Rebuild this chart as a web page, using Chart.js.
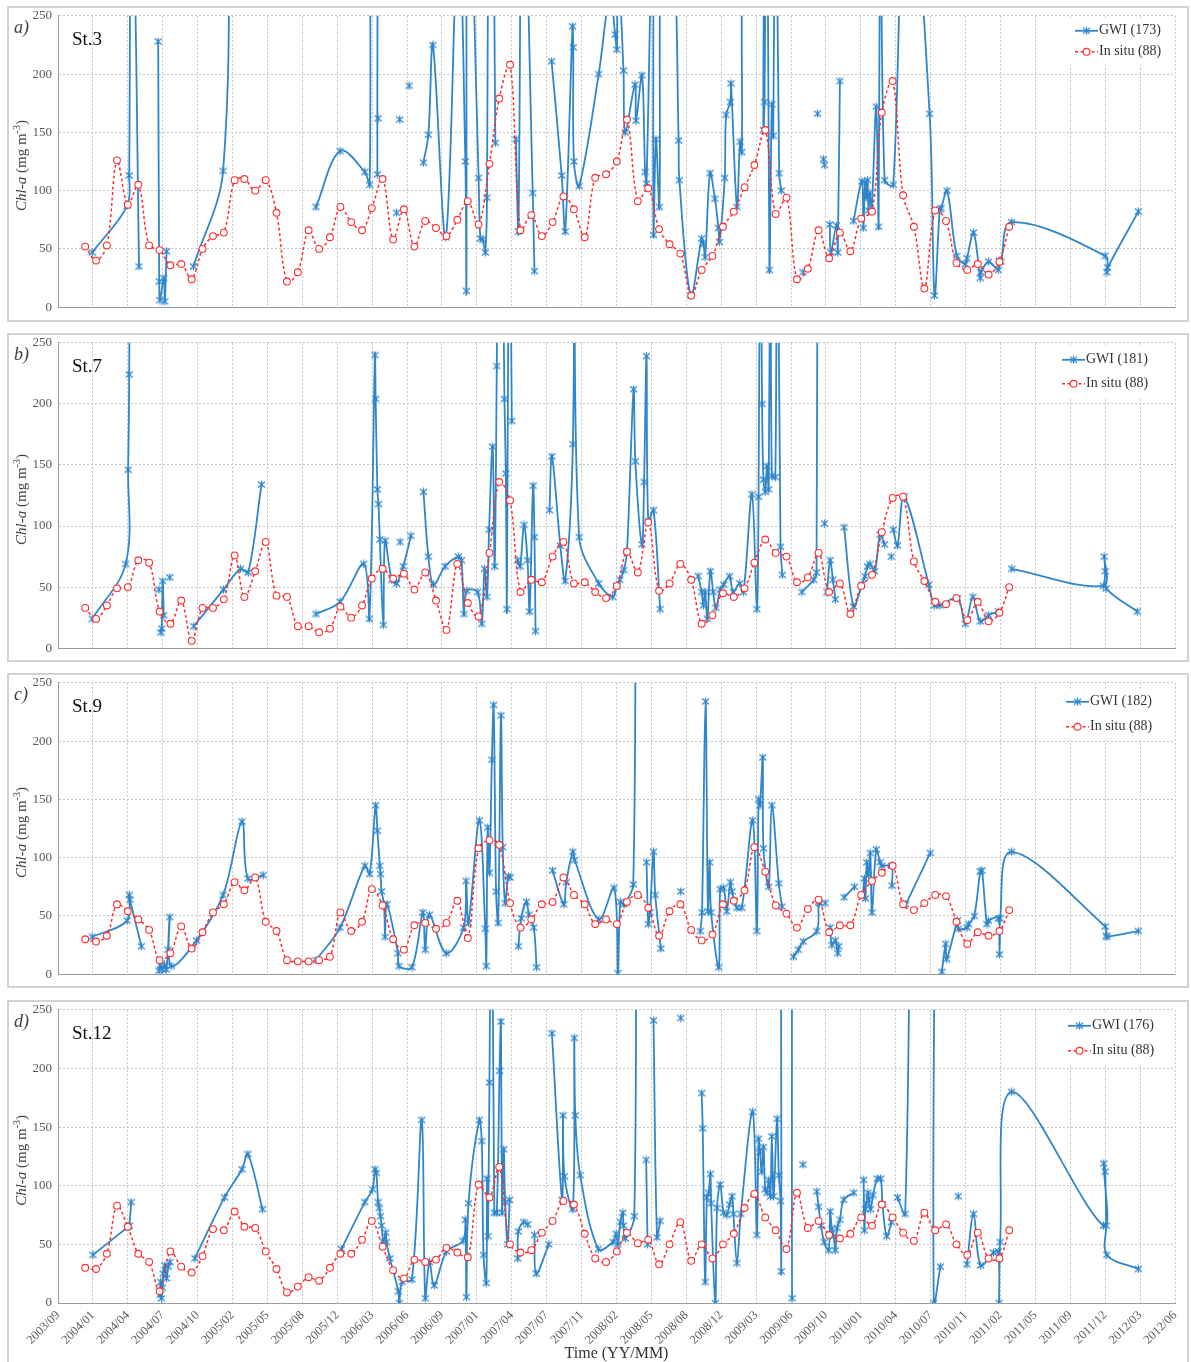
<!DOCTYPE html>
<html lang="en">

<head>
    <meta charset="UTF-8">
    <title>Chl-a: GWI vs in situ</title>
    <script src="https://cdn.jsdelivr.net/npm/chart.js"></script>
    <style>
        body { margin: 0; background: #fff; overflow: hidden; }
        .page { position: relative; width: 1191px; height: 1362px; }
        .box { position: absolute; left: 7px; width: 1182px; border: 2px solid #d2d2d2; box-sizing: border-box; }
        .wrap { position: absolute; left: 0; width: 1191px; }
    </style>
</head>

<body>
    <div class="page">
        <div class="box" style="top:6px;height:316px"></div>
        <div class="box" style="top:333px;height:329px"></div>
        <div class="box" style="top:673px;height:315px"></div>
        <div class="box" style="top:1000px;height:366px"></div>
        <div class="wrap" style="top:2px;height:319px"><canvas id="chartA"></canvas></div>
        <div class="wrap" style="top:329px;height:333px"><canvas id="chartB"></canvas></div>
        <div class="wrap" style="top:669px;height:319px"><canvas id="chartC"></canvas></div>
        <div class="wrap" style="top:996px;height:366px"><canvas id="chartD"></canvas></div>
    </div>

    <script>
        const xTickLabels = ['2003/09', '2004/01', '2004/04', '2004/07', '2004/10', '2005/02', '2005/05', '2005/08',
            '2005/12', '2006/03', '2006/06', '2006/09', '2007/01', '2007/04', '2007/07', '2007/11', '2008/02',
            '2008/05', '2008/08', '2008/12', '2009/03', '2009/06', '2009/10', '2010/01', '2010/04', '2010/07',
            '2010/11', '2011/02', '2011/05', '2011/09', '2011/12', '2012/03', '2012/06'];

        const stations = ['St.3', 'St.7', 'St.9', 'St.12'];
        const panelTags = ['a)', 'b)', 'c)', 'd)'];
        const gwiCounts = [173, 181, 182, 176];
        const insituCount = 88;

        // monthly in situ sampling
        const insituMonths = ['2003-12',
            '2004-01', '2004-02', '2004-03', '2004-04', '2004-05', '2004-06', '2004-07', '2004-08', '2004-09', '2004-10', '2004-11', '2004-12',
            '2005-01', '2005-02', '2005-03', '2005-04', '2005-05', '2005-06', '2005-07', '2005-08', '2005-09', '2005-10', '2005-11', '2005-12',
            '2006-01', '2006-02', '2006-03', '2006-04', '2006-05', '2006-06', '2006-07', '2006-08', '2006-09', '2006-10', '2006-11', '2006-12',
            '2007-01', '2007-02', '2007-03', '2007-04', '2007-05', '2007-06', '2007-07', '2007-08', '2007-09', '2007-10', '2007-11', '2007-12',
            '2008-01', '2008-02', '2008-03', '2008-04', '2008-05', '2008-06', '2008-07', '2008-08', '2008-09', '2008-10', '2008-11', '2008-12',
            '2009-01', '2009-02', '2009-03', '2009-04', '2009-05', '2009-06', '2009-07', '2009-08', '2009-09', '2009-10', '2009-11', '2009-12',
            '2010-01', '2010-02', '2010-03', '2010-04', '2010-05', '2010-06', '2010-07', '2010-08', '2010-09', '2010-10', '2010-11', '2010-12',
            '2011-01', '2011-02', '2011-03'];

        const insituA = [52, 40, 53, 126, 88, 105, 53, 49, 36, 37, 24, 50, 61, 64, 109, 110, 100, 109, 81, 22, 30, 66, 50, 60, 86, 73, 66, 85, 110, 58, 84,
            52, 74, 68, 61, 75, 91, 71, 123, 179, 208, 66, 79, 61, 73, 95, 84, 60, 111, 114, 125, 161, 91, 102, 67, 54, 46, 10, 32, 44, 69, 82, 103, 122, 152, 80, 94, 24,
            33, 66, 42, 64, 48, 76, 82, 167, 194, 96, 69, 16, 83, 74, 38, 32, 37, 28, 39, 69];
        const insituB = [33, 24, 35, 49, 50, 72, 70, 30, 20, 39, 6, 33, 33, 40, 76, 42, 63, 87, 43, 42, 18, 18, 13, 16, 34, 25, 35, 57, 65, 57, 61,
            48, 62, 39, 15, 69, 37, 26, 78, 136, 121, 46, 56, 54, 75, 87, 53, 54, 46, 41, 51, 79, 62, 103, 47, 53, 69, 56, 20, 27, 45, 42, 49, 70, 89, 78, 75, 54,
            58, 78, 46, 53, 28, 51, 60, 95, 123, 124, 71, 55, 38, 36, 41, 23, 38, 22, 29, 50];
        const insituC = [30, 28, 33, 60, 54, 47, 38, 12, 18, 41, 22, 36, 53, 60, 79, 72, 83, 45, 37, 12, 11, 11, 12, 15, 53, 37, 45, 73, 59, 30, 21,
            42, 44, 39, 44, 63, 31, 108, 115, 111, 61, 40, 47, 60, 62, 83, 68, 60, 43, 47, 43, 62, 68, 57, 33, 54, 60, 38, 29, 34, 60, 63, 72, 109, 88, 59, 52, 40,
            56, 64, 36, 42, 42, 68, 80, 87, 93, 60, 55, 61, 68, 67, 45, 26, 36, 33, 37, 55];
        const insituD = [30, 29, 42, 83, 65, 42, 35, 10, 44, 31, 26, 40, 63, 62, 78, 65, 64, 44, 29, 9, 14, 22, 19, 30, 42, 42, 54, 70, 48, 28, 21,
            37, 35, 37, 47, 43, 39, 101, 90, 116, 50, 43, 45, 60, 70, 87, 84, 59, 38, 35, 44, 60, 51, 54, 33, 50, 69, 36, 50, 38, 50, 59, 81, 93, 73, 62, 46, 94,
            64, 70, 58, 55, 59, 73, 66, 84, 73, 60, 53, 77, 62, 67, 50, 41, 60, 38, 38, 62];

        // GWI retrievals, [date, value]; null breaks the line
        const gwiA = [['2003-12-30', 47], ['2004-04-08', 87], ['2004-04-14', 113], ['2004-04-20', 480], ['2004-05-12', 35], ['2004-06-10', null],
            ['2004-07-06', 228], ['2004-07-09', 22], ['2004-07-11', 6], ['2004-07-22', 25], ['2004-07-25', 5], ['2004-07-30', 48], ['2004-09-01', null],
            ['2004-10-15', 35], ['2005-01-08', 117], ['2005-01-25', 420], ['2005-06-01', null],
            ['2005-10-01', 86], ['2005-12-09', 134], ['2006-02-18', 116], ['2006-03-04', 105], ['2006-03-07', 450], ['2006-03-23', 420], ['2006-03-26', 114], ['2006-03-27', null],
            ['2006-03-28', 162], ['2006-04-10', null], ['2006-05-20', 81], ['2006-05-24', null], ['2006-05-29', 161], ['2006-06-10', null], ['2006-06-25', 190], ['2006-07-10', null],
            ['2006-08-05', 124], ['2006-08-19', 148], ['2006-09-01', 225], ['2006-10-08', 60], ['2006-11-13', 330], ['2006-12-03', 125], ['2006-12-06', 14], ['2006-12-10', 420],
            ['2007-01-10', 111], ['2007-01-15', 59], ['2007-01-22', 58], ['2007-01-29', 47], ['2007-02-03', 94], ['2007-02-09', 400], ['2007-02-18', 400], ['2007-02-27', 141], ['2007-04-01', null],
            ['2007-04-27', 144], ['2007-05-04', 65], ['2007-05-16', 420], ['2007-06-14', 98], ['2007-06-19', 31], ['2007-07-15', null],
            ['2007-08-07', 211], ['2007-09-05', 113], ['2007-09-15', 65], ['2007-10-06', 241], ['2007-10-08', 223], ['2007-10-10', 125], ['2007-10-25', 104], ['2007-12-20', 200],
            ['2008-01-22', 270], ['2008-02-05', 234], ['2008-02-10', 221], ['2008-02-13', 300], ['2008-02-29', 203], ['2008-03-05', 150], ['2008-04-02', 191], ['2008-04-05', 160],
            ['2008-04-22', 199], ['2008-05-01', 116], ['2008-05-05', 106], ['2008-05-23', 350], ['2008-05-25', 62], ['2008-06-01', 144], ['2008-06-11', 86], ['2008-06-18', 350],
            ['2008-07-20', 320], ['2008-08-05', 143], ['2008-08-07', 109], ['2008-09-09', 10], ['2008-10-10', 59], ['2008-10-15', 54], ['2008-10-20', 43], ['2008-11-03', 115],
            ['2008-11-17', 93], ['2008-11-27', 68], ['2008-11-30', 56], ['2008-12-15', 111], ['2008-12-19', 165], ['2008-12-31', 176], ['2009-01-02', 192], ['2009-01-19', 86],
            ['2009-01-28', 142], ['2009-02-02', 133], ['2009-02-09', 330], ['2009-03-30', 400], ['2009-04-05', 152], ['2009-04-08', 176], ['2009-04-15', 420], ['2009-04-22', 32],
            ['2009-04-29', 174], ['2009-05-03', 147], ['2009-05-10', 420], ['2009-05-20', 115], ['2009-05-26', 100], ['2009-06-20', null],
            ['2009-07-27', 30], ['2009-08-10', null], ['2009-09-07', 166], ['2009-09-15', null], ['2009-09-24', 127], ['2009-09-25', null], ['2009-09-27', 122], ['2009-10-01', null],
            ['2009-10-12', 71], ['2009-10-15', 47], ['2009-10-31', 70], ['2009-11-04', 47], ['2009-11-10', 194], ['2009-12-01', null],
            ['2009-12-19', 74], ['2010-01-12', 108], ['2010-01-16', 68], ['2010-01-21', 107], ['2010-01-24', 94], ['2010-01-28', 109], ['2010-01-31', 83], ['2010-02-04', 98],
            ['2010-02-09', 83], ['2010-02-22', 172], ['2010-03-01', 69], ['2010-03-06', 400], ['2010-03-18', 109], ['2010-04-12', 105], ['2010-05-20', 420], ['2010-07-25', 166],
            ['2010-08-08', 10], ['2010-08-23', 84], ['2010-08-27', 85], ['2010-09-13', 100], ['2010-10-11', 44], ['2010-11-04', 37], ['2010-11-09', 42], ['2010-11-28', 64],
            ['2010-12-17', 25], ['2010-12-19', 30], ['2011-01-10', 39], ['2011-02-07', 32], ['2011-02-10', 40], ['2011-02-14', 39], ['2011-03-17', 73], ['2011-12-10', 44],
            ['2011-12-15', 30], ['2011-12-17', 34], ['2012-03-14', 82]];

        const gwiB = [['2003-12-30', 24], ['2004-04-04', 69], ['2004-04-11', 146], ['2004-04-14', 224], ['2004-04-18', 480], ['2004-06-01', null],
            ['2004-07-08', 48], ['2004-07-11', null], ['2004-07-14', 13], ['2004-07-16', 16], ['2004-07-19', 55], ['2004-07-22', 27], ['2004-07-30', null],
            ['2004-08-08', 58], ['2004-09-01', null],
            ['2004-10-16', 18], ['2005-01-09', 48], ['2005-02-27', 65], ['2005-03-21', 62], ['2005-04-28', 134], ['2005-07-01', null],
            ['2005-10-01', 28], ['2005-12-09', 38], ['2006-02-15', 69], ['2006-03-03', 24], ['2006-03-19', 240], ['2006-03-21', 204], ['2006-03-26', 130], ['2006-03-29', 118],
            ['2006-04-02', 89], ['2006-04-12', 19], ['2006-04-17', 88], ['2006-05-06', 56], ['2006-05-20', 53], ['2006-06-08', 67], ['2006-06-30', 92], ['2006-07-15', null],
            ['2006-08-05', 128], ['2006-08-19', 75], ['2006-09-03', 52], ['2006-10-06', 67], ['2006-11-13', 75], ['2006-11-22', 72], ['2006-11-29', 28], ['2006-12-07', 47],
            ['2007-01-07', 46], ['2007-01-19', 20], ['2007-01-27', 65], ['2007-02-03', 42], ['2007-02-09', 97], ['2007-02-19', 165], ['2007-02-25', 67], ['2007-03-03', 231],
            ['2007-03-08', 400], ['2007-03-17', 400], ['2007-03-25', 204], ['2007-03-29', 143], ['2007-04-01', 32], ['2007-04-08', 420], ['2007-04-15', 186], ['2007-04-25', null],
            ['2007-05-02', 72], ['2007-05-09', 67], ['2007-05-20', 101], ['2007-05-30', 72], ['2007-06-05', 30], ['2007-06-15', 133], ['2007-06-19', 91], ['2007-06-22', 14], ['2007-07-15', null],
            ['2007-08-01', 113], ['2007-08-08', 157], ['2007-09-01', 84], ['2007-09-15', 55], ['2007-10-07', 167], ['2007-10-12', 400], ['2007-10-25', 91], ['2007-12-20', 53],
            ['2008-01-29', 42], ['2008-02-10', 51], ['2008-02-19', 56], ['2008-03-01', 64], ['2008-03-10', 79], ['2008-03-29', 212], ['2008-04-03', 153], ['2008-04-22', 85],
            ['2008-04-28', 136], ['2008-05-05', 239], ['2008-05-10', 104], ['2008-05-25', 113], ['2008-06-13', 32], ['2008-08-01', null],
            ['2008-09-30', 59], ['2008-10-10', 46], ['2008-10-15', 35], ['2008-10-20', 46], ['2008-10-26', 24], ['2008-11-04', 63], ['2008-11-12', 46], ['2008-11-20', 33],
            ['2008-12-02', 48], ['2008-12-12', 52], ['2008-12-29', 59], ['2009-01-08', 46], ['2009-01-27', 53], ['2009-02-07', 46], ['2009-03-03', 126], ['2009-03-17', 32],
            ['2009-03-22', 124], ['2009-03-27', 400], ['2009-04-01', 200], ['2009-04-05', 138], ['2009-04-10', 128], ['2009-04-15', 149], ['2009-04-20', 130], ['2009-04-25', 400],
            ['2009-04-29', 141], ['2009-05-09', 140], ['2009-05-14', 420], ['2009-05-24', 83], ['2009-05-29', 60], ['2009-07-01', null],
            ['2009-07-24', 46], ['2009-08-27', 56], ['2009-09-04', 62], ['2009-09-07', 500], ['2009-09-20', null], ['2009-09-27', 102], ['2009-09-30', null],
            ['2009-10-04', 46], ['2009-10-13', 72], ['2009-10-21', 56], ['2009-10-28', 40], ['2009-11-10', null],
            ['2009-11-22', 99], ['2009-12-19', 34], ['2010-01-12', 52], ['2010-01-21', 59], ['2010-01-28', 67], ['2010-02-04', 69], ['2010-02-18', 63], ['2010-03-05', 93],
            ['2010-03-18', 85], ['2010-03-30', null], ['2010-04-06', 75], ['2010-04-09', null],
            ['2010-04-12', 97], ['2010-04-24', 84], ['2010-05-13', 124], ['2010-07-23', 52], ['2010-08-07', 35], ['2010-08-23', 35], ['2010-10-13', 41], ['2010-11-04', 20],
            ['2010-11-26', 42], ['2010-12-17', 22], ['2011-01-10', 27], ['2011-02-07', 30], ['2011-02-25', null],
            ['2011-03-17', 65], ['2011-12-05', 51], ['2011-12-07', 75], ['2011-12-10', 63], ['2011-12-13', 49], ['2012-03-11', 30], ['2012-03-20', null],
            ['2006-05-30', 87]];

        const gwiC = [['2003-12-30', 32], ['2004-04-08', 46], ['2004-04-14', 68], ['2004-04-16', 64], ['2004-05-19', 24], ['2004-06-20', null],
            ['2004-07-08', 3], ['2004-07-12', 8], ['2004-07-18', 4], ['2004-07-24', 8], ['2004-07-29', 4], ['2004-08-03', 21], ['2004-08-08', 49], ['2004-08-12', 7],
            ['2004-10-24', 29], ['2005-01-08', 68], ['2005-03-03', 131], ['2005-03-20', 82], ['2005-05-03', 85], ['2005-07-01', null],
            ['2005-10-01', 12], ['2005-12-09', 40], ['2006-02-18', 93], ['2006-03-04', 86], ['2006-03-21', 145], ['2006-03-26', 123], ['2006-04-02', 93], ['2006-04-04', 86],
            ['2006-04-07', 71], ['2006-04-14', 60], ['2006-04-17', 32], ['2006-04-22', 60], ['2006-05-24', 18], ['2006-05-27', 7], ['2006-07-03', 6], ['2006-08-03', 53],
            ['2006-08-10', 21], ['2006-08-22', 51], ['2006-10-09', 18], ['2006-11-28', 40], ['2006-12-05', 80], ['2006-12-12', 44], ['2007-01-12', 132], ['2007-01-29', 39],
            ['2007-02-01', 7], ['2007-02-05', 126], ['2007-02-10', 87], ['2007-02-17', 184], ['2007-02-22', 231], ['2007-03-01', 71], ['2007-03-07', 44], ['2007-03-15', 222],
            ['2007-03-20', 109], ['2007-03-27', 61], ['2007-04-05', 84], ['2007-04-10', 83], ['2007-04-25', null],
            ['2007-05-04', 24], ['2007-05-12', 48], ['2007-05-27', 62], ['2007-06-03', 51], ['2007-06-17', 40], ['2007-06-25', 6], ['2007-07-20', null],
            ['2007-08-10', 89], ['2007-09-11', 60], ['2007-09-18', 79], ['2007-10-07', 105], ['2007-10-12', 98], ['2007-12-20', 47], ['2008-02-02', 74], ['2008-02-13', 1],
            ['2008-02-20', 62], ['2008-03-01', 60], ['2008-03-28', 77], ['2008-04-03', 500], ['2008-04-20', null],
            ['2008-05-05', 96], ['2008-05-10', 43], ['2008-05-15', 53], ['2008-05-25', 105], ['2008-05-30', 68], ['2008-06-15', 22], ['2008-07-01', null],
            ['2008-08-11', 71], ['2008-09-01', null],
            ['2008-10-06', 37], ['2008-10-11', 53], ['2008-10-21', 234], ['2008-10-28', 54], ['2008-11-02', 96], ['2008-11-06', 53], ['2008-11-28', 6], ['2008-12-02', 73],
            ['2008-12-12', 74], ['2008-12-21', 54], ['2008-12-31', 79], ['2009-01-05', 71], ['2009-01-19', 57], ['2009-02-02', 57], ['2009-03-05', 132], ['2009-03-17', 37],
            ['2009-03-22', 150], ['2009-03-26', 145], ['2009-04-03', 186], ['2009-04-05', 108], ['2009-04-20', 75], ['2009-04-29', 145], ['2009-05-19', 78], ['2009-05-28', 58],
            ['2009-06-15', null],
            ['2009-06-30', 15], ['2009-07-14', 21], ['2009-07-28', 28], ['2009-09-05', 37], ['2009-09-10', 62], ['2009-09-13', 61], ['2009-09-20', null],
            ['2009-09-29', 61], ['2009-10-05', null],
            ['2009-10-13', 40], ['2009-10-18', 25], ['2009-10-28', 29], ['2009-11-04', 18], ['2009-11-07', 24], ['2009-11-15', null],
            ['2009-11-22', 66], ['2009-12-22', 75], ['2010-01-05', null],
            ['2010-01-15', 68], ['2010-01-19', 82], ['2010-01-22', 65], ['2010-01-26', 96], ['2010-01-31', 85], ['2010-02-05', 104], ['2010-02-10', 53], ['2010-02-22', 107],
            ['2010-03-05', 96], ['2010-03-10', 93], ['2010-04-07', 93], ['2010-04-08', 76], ['2010-05-01', null],
            ['2010-05-18', 60], ['2010-07-27', 104], ['2010-08-15', null],
            ['2010-08-29', 2], ['2010-09-09', 26], ['2010-09-12', 13], ['2010-10-13', 46], ['2010-10-15', 39], ['2010-11-09', 40], ['2010-11-14', 43], ['2010-11-30', 50],
            ['2010-12-17', 88], ['2010-12-22', 89], ['2011-01-05', 43], ['2011-01-10', 46], ['2011-02-07', 48], ['2011-02-10', 17], ['2011-02-12', 48], ['2011-03-17', 105],
            ['2011-12-10', 41], ['2011-12-13', 33], ['2011-12-15', 32], ['2012-03-14', 37]];

        const gwiD = [['2004-01-01', 41], ['2004-04-11', 65], ['2004-04-14', 66], ['2004-04-20', 86], ['2004-06-01', null],
            ['2004-07-12', 7], ['2004-07-13', 18], ['2004-07-15', 4], ['2004-07-18', 13], ['2004-07-20', 25], ['2004-07-25', 32], ['2004-07-30', 21], ['2004-08-04', 31],
            ['2004-08-09', 35], ['2004-09-10', null],
            ['2004-10-19', 38], ['2005-01-12', 90], ['2005-03-03', 114], ['2005-03-20', 127], ['2005-05-01', 80], ['2005-08-01', null],
            ['2005-12-13', 46], ['2006-02-18', 86], ['2006-03-12', 97], ['2006-03-19', 114], ['2006-03-23', 111], ['2006-03-28', 86], ['2006-03-31', 81], ['2006-04-04', 74],
            ['2006-04-07', 66], ['2006-04-12', 52], ['2006-04-19', 60], ['2006-04-21', 52], ['2006-05-01', 38], ['2006-05-25', 10], ['2006-05-28', 0], ['2006-06-05', 18],
            ['2006-07-03', 20], ['2006-07-31', 156], ['2006-08-10', 4], ['2006-08-22', 35], ['2006-09-05', 15], ['2006-10-10', 44], ['2006-11-26', 53], ['2006-12-03', 71],
            ['2006-12-06', 5], ['2006-12-12', 85], ['2007-01-12', 156], ['2007-01-19', 138], ['2007-01-24', 41], ['2007-02-01', 17], ['2007-02-03', 106], ['2007-02-06', 57],
            ['2007-02-10', 188], ['2007-02-17', 420], ['2007-02-24', 77], ['2007-03-03', 77], ['2007-03-11', 198], ['2007-03-15', 240], ['2007-03-18', 77], ['2007-03-23', 131],
            ['2007-03-27', 86], ['2007-04-03', 50], ['2007-04-09', 88], ['2007-04-20', null],
            ['2007-05-02', 38], ['2007-05-04', 61], ['2007-05-19', 69], ['2007-05-31', 67], ['2007-06-10', null],
            ['2007-06-19', 58], ['2007-06-24', 25], ['2007-07-30', 50], ['2007-08-03', null],
            ['2007-08-08', 230], ['2007-09-06', 88], ['2007-09-09', 160], ['2007-09-13', 108], ['2007-10-07', 80], ['2007-10-11', 226], ['2007-10-14', 160], ['2007-10-28', 109],
            ['2007-12-19', 46], ['2008-01-30', 52], ['2008-02-08', 59], ['2008-02-13', 50], ['2008-02-20', 69], ['2008-02-27', 77], ['2008-02-29', 66], ['2008-03-05', 55],
            ['2008-03-31', 74], ['2008-04-04', 500], ['2008-04-20', null],
            ['2008-05-04', 122], ['2008-05-08', 50], ['2008-05-15', null],
            ['2008-05-25', 241], ['2008-06-04', 56], ['2008-06-13', 70], ['2008-07-01', null], ['2008-08-11', 243], ['2008-09-01', null],
            ['2008-10-10', 179], ['2008-10-13', 149], ['2008-10-20', 18], ['2008-10-25', 90], ['2008-10-30', 94], ['2008-11-04', 110], ['2008-11-06', 85], ['2008-11-18', 0],
            ['2008-11-23', 81], ['2008-12-02', 101], ['2008-12-12', 77], ['2008-12-21', 75], ['2008-12-29', 84], ['2009-01-05', 91], ['2009-01-09', 76], ['2009-01-19', 34],
            ['2009-01-30', 76], ['2009-03-05', 163], ['2009-03-17', 58], ['2009-03-22', 140], ['2009-03-26', 129], ['2009-03-31', 112], ['2009-04-05', 133], ['2009-04-10', 97],
            ['2009-04-15', 94], ['2009-04-20', 105], ['2009-04-25', 91], ['2009-04-29', 142], ['2009-05-04', 91], ['2009-05-14', 157], ['2009-05-19', 109], ['2009-05-24', 87],
            ['2009-05-26', 27], ['2009-05-30', 500], ['2009-06-20', 500], ['2009-06-26', 4], ['2009-07-10', null],
            ['2009-07-27', 118], ['2009-08-10', null],
            ['2009-09-05', 95], ['2009-09-10', 82], ['2009-09-17', 66], ['2009-09-26', 52], ['2009-10-09', 45], ['2009-10-13', 78], ['2009-10-18', 63], ['2009-10-23', 57],
            ['2009-10-28', 45], ['2009-11-02', 64], ['2009-11-10', 71], ['2009-11-21', 88], ['2009-12-20', 94], ['2010-01-05', null],
            ['2010-01-17', 105], ['2010-01-19', 62], ['2010-01-22', 80], ['2010-01-25', 85], ['2010-01-29', 94], ['2010-02-01', 88], ['2010-02-06', 80], ['2010-02-13', 92],
            ['2010-02-25', 106], ['2010-03-07', 106], ['2010-03-12', 84], ['2010-03-24', 57], ['2010-04-07', 69], ['2010-04-15', null],
            ['2010-04-24', 90], ['2010-05-16', 76], ['2010-06-18', 600], ['2010-08-03', 600], ['2010-08-06', 0], ['2010-08-25', 31], ['2010-09-20', null],
            ['2010-10-15', 91], ['2010-10-30', null],
            ['2010-11-09', 33], ['2010-11-28', 76], ['2010-12-18', 32], ['2011-01-24', 43], ['2011-02-07', 44], ['2011-02-09', 0], ['2011-02-12', 52], ['2011-03-17', 180],
            ['2011-12-05', 66], ['2011-12-06', 119], ['2011-12-10', 112], ['2011-12-13', 66], ['2011-12-15', 41], ['2012-03-14', 29]];

        const AXIS_START = Date.UTC(2003, 8, 23);
        const TICK_DAYS = 100;
        const GWI_COLOR = '#2f86cb';
        const INSITU_COLOR = '#ff2d2d';
        const FONT = '"Liberation Serif", "Times New Roman", serif';

        function toDay(s) {
            const [y, m, d] = s.split('-').map(Number);
            return (Date.UTC(y, m - 1, d || 10) - AXIS_START) / 864e5;
        }

        // excel-like "star" marker: x with a vertical bar
        function makeStar(color) {
            const c = document.createElement('canvas');
            c.width = 9;
            c.height = 9;
            const g = c.getContext('2d');
            g.strokeStyle = color;
            g.lineWidth = 1.2;
            g.beginPath();
            g.moveTo(4.5, 0.5); g.lineTo(4.5, 8.5);
            g.moveTo(1, 1.5); g.lineTo(8, 7.5);
            g.moveTo(8, 1.5); g.lineTo(1, 7.5);
            g.stroke();
            return c;
        }
        const starMarker = makeStar(GWI_COLOR);

        const panelDecor = {
            id: 'panelDecor',
            afterDatasetsDraw(chart, args, o) {
                const { ctx, chartArea: a } = chart;
                const x0 = a.right + o.legendDx;
                const y1 = a.top + o.legendDy[0];
                const y2 = a.top + o.legendDy[1];
                ctx.save();
                ctx.fillStyle = '#fff';
                ctx.fillRect(x0 - 5, y1 - 13, 98, y2 - y1 + 26);

                ctx.strokeStyle = GWI_COLOR;
                ctx.lineWidth = 1.8;
                ctx.beginPath(); ctx.moveTo(x0, y1); ctx.lineTo(x0 + 23, y1); ctx.stroke();
                ctx.drawImage(starMarker, x0 + 7, y1 - 4.5);

                ctx.strokeStyle = INSITU_COLOR;
                ctx.lineWidth = 1.5;
                ctx.setLineDash([3, 2.5]);
                ctx.beginPath(); ctx.moveTo(x0, y2); ctx.lineTo(x0 + 23, y2); ctx.stroke();
                ctx.setLineDash([]);
                ctx.fillStyle = '#fff';
                ctx.lineWidth = 1.1;
                ctx.beginPath(); ctx.arc(x0 + 11.5, y2, 3.4, 0, Math.PI * 2); ctx.fill(); ctx.stroke();

                ctx.fillStyle = '#333';
                ctx.font = '14px ' + FONT;
                ctx.textBaseline = 'middle';
                ctx.fillText(o.gwiLabel, x0 + 24, y1);
                ctx.fillText(o.insituLabel, x0 + 24, y2);
                ctx.restore();
            },
            afterDraw(chart, args, o) {
                const { ctx, chartArea: a } = chart;
                ctx.save();
                ctx.textBaseline = 'alphabetic';
                ctx.fillStyle = '#404040';
                ctx.font = 'italic 18px ' + FONT;
                ctx.fillText(o.tag, 14, a.top + 17);
                ctx.fillStyle = '#111';
                ctx.font = '19px ' + FONT;
                ctx.fillText(o.station, 72, a.top + 29);

                // y title: Chl-a (mg m-3)
                const parts = [
                    ['italic 15px ' + FONT, 'Chl-a', 0],
                    ['15px ' + FONT, ' (mg m', 0],
                    ['10px ' + FONT, '-3', -5],
                    ['15px ' + FONT, ')', 0]
                ];
                let total = 0;
                parts.forEach(p => { ctx.font = p[0]; total += ctx.measureText(p[1]).width; });
                ctx.translate(22, (a.top + a.bottom) / 2 + 4);
                ctx.rotate(-Math.PI / 2);
                ctx.fillStyle = '#404040';
                ctx.textBaseline = 'middle';
                let x = -total / 2;
                parts.forEach(p => {
                    ctx.font = p[0];
                    ctx.fillText(p[1], x, p[2]);
                    x += ctx.measureText(p[1]).width;
                });
                ctx.restore();
            }
        };

        const panels = [
            { canvas: 'chartA', gwi: gwiA, insitu: insituA, legendDx: -100, legendDy: [15, 36], showX: false },
            { canvas: 'chartB', gwi: gwiB, insitu: insituB, legendDx: -113, legendDy: [17, 41], showX: false },
            { canvas: 'chartC', gwi: gwiC, insitu: insituC, legendDx: -109, legendDy: [19, 44], showX: false },
            { canvas: 'chartD', gwi: gwiD, insitu: insituD, legendDx: -107, legendDy: [16, 41], showX: true }
        ];

        Chart.defaults.font.family = FONT;

        panels.forEach((p, i) => {
            const ctx = document.getElementById(p.canvas).getContext('2d');
            const data = {
                datasets: [{
                    label: 'In situ (' + insituCount + ')',
                    data: insituMonths.map((m, k) => ({ x: toDay(m), y: p.insitu[k] })),
                    borderColor: INSITU_COLOR,
                    borderWidth: 1.5,
                    borderDash: [3, 2.5],
                    pointStyle: 'circle',
                    pointRadius: 3.4,
                    pointBorderWidth: 1.1,
                    pointBorderColor: INSITU_COLOR,
                    pointBackgroundColor: '#fff',
                    tension: 0.35,
                    order: 1
                }, {
                    label: 'GWI (' + gwiCounts[i] + ')',
                    data: p.gwi.map(([d, v]) => ({ x: toDay(d), y: v })),
                    borderColor: GWI_COLOR,
                    borderWidth: 1.8,
                    pointStyle: starMarker,
                    pointRadius: 4,
                    tension: 0.35,
                    spanGaps: false,
                    order: 2
                }]
            };

            const config = {
                type: 'line',
                data: data,
                options: {
                    responsive: true,
                    maintainAspectRatio: false,
                    animation: false,
                    events: [],
                    layout: { padding: { left: 10, right: 16, top: 10, bottom: p.showX ? 0 : 8 } },
                    elements: { line: { capBezierPoints: false } },
                    scales: {
                        x: {
                            type: 'linear',
                            min: 0,
                            max: (xTickLabels.length - 1) * TICK_DAYS,
                            afterBuildTicks: s => { s.ticks = xTickLabels.map((_, k) => ({ value: k * TICK_DAYS })); },
                            afterFit: s => { s.height = p.showX ? 59 : 0; },
                            grid: { color: '#c4c4c4', drawTicks: false },
                            border: { color: '#9c9c9c', dash: [2, 2] },
                            ticks: {
                                display: p.showX,
                                autoSkip: false,
                                maxRotation: 45,
                                minRotation: 45,
                                padding: 5,
                                color: '#595959',
                                font: { size: 12.5 },
                                callback: (v, k) => xTickLabels[k]
                            },
                            title: {
                                display: p.showX,
                                text: 'Time (YY/MM)',
                                color: '#333',
                                font: { size: 16, lineHeight: 1 },
                                padding: 0
                            }
                        },
                        y: {
                            min: 0,
                            max: 250,
                            afterFit: s => { s.width = 48; },
                            grid: { color: '#c4c4c4', drawTicks: false },
                            border: { color: '#9c9c9c', dash: [2, 2] },
                            ticks: { stepSize: 50, padding: 6, color: '#595959', font: { size: 13 } }
                        }
                    },
                    plugins: {
                        legend: { display: false },
                        tooltip: { enabled: false },
                        panelDecor: {
                            tag: panelTags[i],
                            station: stations[i],
                            gwiLabel: 'GWI (' + gwiCounts[i] + ')',
                            insituLabel: 'In situ (' + insituCount + ')',
                            legendDx: p.legendDx,
                            legendDy: p.legendDy
                        }
                    }
                },
                plugins: [panelDecor]
            };

            new Chart(ctx, config);
        });
    </script>
</body>

</html>
